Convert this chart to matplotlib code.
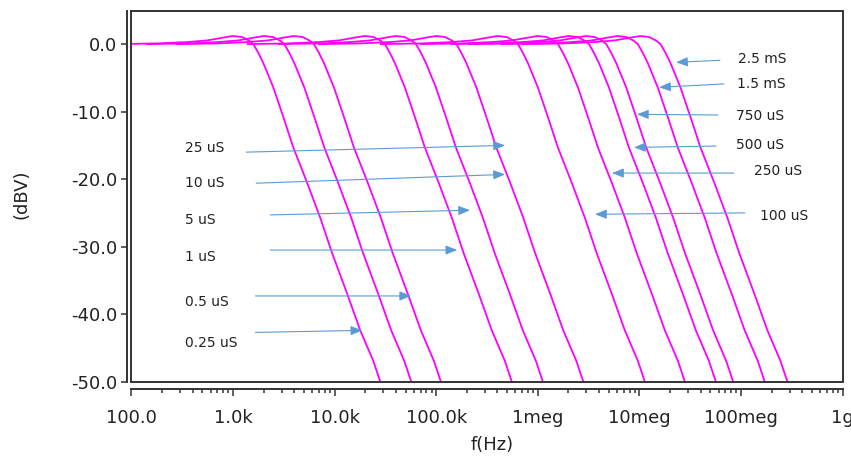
import matplotlib
matplotlib.use('Agg')
import matplotlib.pyplot as plt
from matplotlib.patches import Rectangle
from matplotlib.ticker import FixedLocator, LogLocator, NullFormatter
import numpy as np

# frequency (Hz) where each response reaches -50 dBV, low to high
end_freq_hz = [28.1e3, 56.7e3, 111e3, 554e3, 1.12e6, 2.8e6,
               11.3e6, 28e6, 56.5e6, 83.6e6, 171e6, 286e6]

# common response shape: decades relative to the -50 dB point, and level in dB
shape_dec = [-2.6, -2.2, -1.9, -1.7, -1.55, -1.45, -1.36, -1.29, -1.249, -1.2,
             -1.151, -1.053, -0.954, -0.856, -0.718, -0.591, -0.473, -0.325,
             -0.197, -0.069, 0.0, 0.04]
shape_db = [0.0, 0.1, 0.3, 0.55, 0.95, 1.2, 1.05, 0.5, 0.0, -1.3,
            -2.8, -6.4, -10.8, -15.3, -20.6, -25.7, -31.0, -37.0,
            -42.4, -46.9, -50.0, -51.6]

freq_ticks = [1e2, 1e3, 1e4, 1e5, 1e6, 1e7, 1e8, 1e9]
freq_tick_labels = ['100.0', '1.0k', '10.0k', '100.0k', '1meg', '10meg', '100meg', '1g']
db_ticks = [0, -10, -20, -30, -40, -50]
db_tick_labels = ['0.0', '-10.0', '-20.0', '-30.0', '-40.0', '-50.0']

# label, text (f, dB), arrow tail (f, dB), arrow head (f, dB)
notes = [
    ('25 uS',   (340, -15.4),   (1.35e3, -16.0), (475e3, -15.0)),
    ('10 uS',   (340, -20.6),   (1.69e3, -20.6), (475e3, -19.3)),
    ('5 uS',    (340, -26.1),   (2.33e3, -25.3), (215e3, -24.6)),
    ('1 uS',    (340, -31.6),   (2.33e3, -30.5), (161e3, -30.5)),
    ('0.5 uS',  (340, -38.2),   (1.66e3, -37.3), (56.6e3, -37.3)),
    ('0.25 uS', (340, -44.3),   (1.66e3, -42.7), (18.7e3, -42.4)),
    ('2.5 mS',  (92.9e6, -2.2), (61.9e6, -2.4),  (22.9e6, -2.7)),
    ('1.5 mS',  (91e6, -5.9),   (67.8e6, -5.9),  (15.6e6, -6.4)),
    ('750 uS',  (88.9e6, -10.7), (59.2e6, -10.5), (9.44e6, -10.4)),
    ('500 uS',  (88.9e6, -15.0), (56.5e6, -15.1), (8.83e6, -15.3)),
    ('250 uS',  (134e6, -18.8), (84.9e6, -19.1), (5.37e6, -19.1)),
    ('100 uS',  (153e6, -25.5), (109e6, -25.0),  (3.65e6, -25.2)),
]

frame_col = '#333333'
arrow_col = '#5b9bd5'

fig = plt.figure(figsize=(8.51, 4.59), dpi=100)
ax = fig.add_axes([0.1545, 0.1684, 0.9902 - 0.1545, 0.976 - 0.1684])

for fe in end_freq_hz:
    f = fe * 10 ** np.array(shape_dec)
    ax.plot(f, shape_db, color='#ff00ff', lw=1.3)

ax.set_xscale('log')
ax.set_xlim(1e2, 1e9)
ax.set_ylim(-50, 4.9)

ax.xaxis.set_major_locator(FixedLocator(freq_ticks))
ax.set_xticklabels(freq_tick_labels)
ax.xaxis.set_minor_locator(LogLocator(base=10, subs=np.arange(2, 10)))
ax.xaxis.set_minor_formatter(NullFormatter())
ax.set_yticks(db_ticks)
ax.set_yticklabels(db_tick_labels)

for s in ['top', 'right']:
    ax.spines[s].set_visible(False)
ax.spines['left'].set_position(('outward', 3.2))
ax.spines['bottom'].set_position(('outward', 5.5))
for s in ['left', 'bottom']:
    ax.spines[s].set_color(frame_col)
    ax.spines[s].set_linewidth(1.4)

ax.add_patch(Rectangle((0, 0), 1, 1, transform=ax.transAxes, fill=False,
                       edgecolor=frame_col, lw=1.4, clip_on=False, zorder=5))

ax.tick_params(axis='x', which='major', direction='out', length=5, width=1.1,
               color=frame_col, pad=9, labelsize=13, labelcolor='#222222')
ax.tick_params(axis='x', which='minor', direction='out', length=3, width=1.1,
               color=frame_col)
ax.tick_params(axis='y', which='major', direction='out', length=4, width=1.1,
               color=frame_col, pad=3, labelsize=13, labelcolor='#222222')

fig.text(22 / 851, 1 - 194 / 459, '(dBV)', rotation=90, ha='center', va='center',
         fontsize=13, color='#222222')
fig.text(492 / 851, 1 - 445 / 459, 'f(Hz)', ha='center', va='center',
         fontsize=13, color='#222222')

for label, txt, tail, head in notes:
    ax.annotate('', xy=head, xytext=tail,
                arrowprops=dict(arrowstyle='-|>,head_length=0.5,head_width=0.2',
                                mutation_scale=14, lw=0.8, color=arrow_col,
                                shrinkA=0, shrinkB=0), zorder=6)
    ax.text(txt[0], txt[1], label, ha='left', va='center', fontsize=10,
            color='#222222', zorder=6)

fig.savefig('out.png', dpi=100)
